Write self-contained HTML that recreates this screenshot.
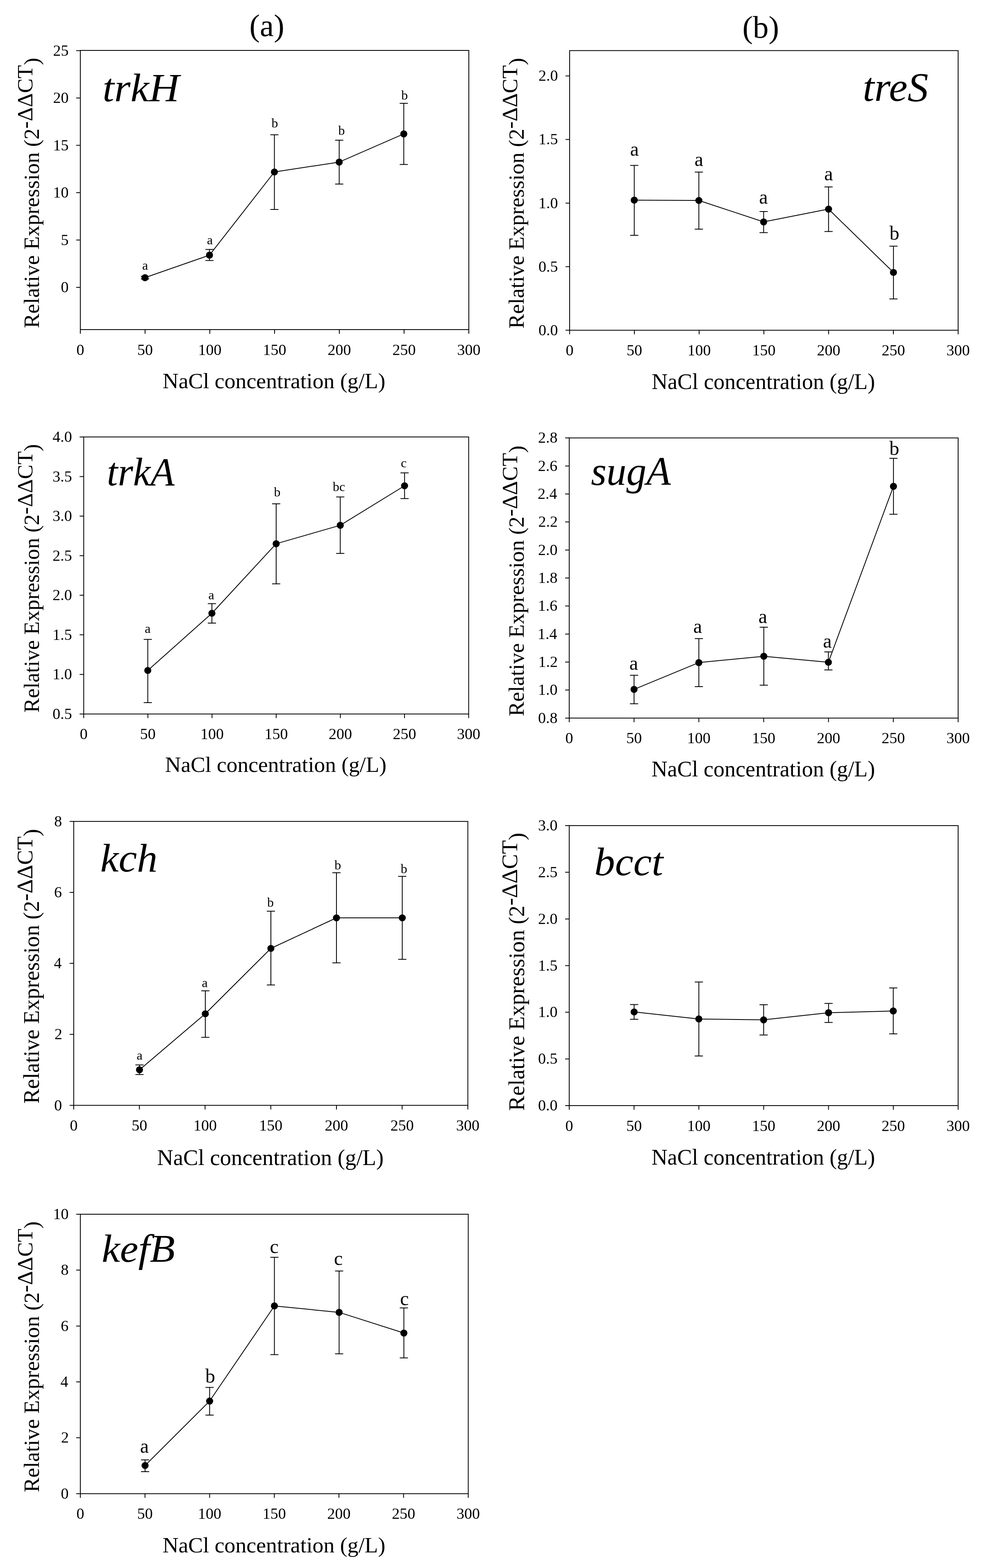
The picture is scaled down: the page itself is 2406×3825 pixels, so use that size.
<!DOCTYPE html>
<html><head><meta charset="utf-8"><title>Relative expression of osmoregulation genes under NaCl stress</title>
<style>
html,body{margin:0;padding:0;background:#fff;}
svg{display:block;}
text{font-family:'Liberation Serif','Times New Roman',serif;fill:#000;}
</style></head>
<body>
<svg width="2406" height="3825" viewBox="0 0 2406 3825">
<rect width="2406" height="3825" fill="#fff"/>
<g class="chart">
<rect x="196" y="123" width="948" height="681" fill="none" stroke="#000" stroke-width="2.0"/>
<path d="M196 804v10M354 804v10M512 804v10M670 804v10M828 804v10M986 804v10M1144 804v10M196 700.9h-10M196 585.4h-10M196 469.9h-10M196 354.4h-10M196 238.9h-10M196 123.4h-10" stroke="#000" stroke-width="2.0" fill="none"/>
<text x="196" y="865.7" font-size="38" text-anchor="middle">0</text>
<text x="354" y="865.7" font-size="38" text-anchor="middle">50</text>
<text x="512" y="865.7" font-size="38" text-anchor="middle">100</text>
<text x="670" y="865.7" font-size="38" text-anchor="middle">150</text>
<text x="828" y="865.7" font-size="38" text-anchor="middle">200</text>
<text x="986" y="865.7" font-size="38" text-anchor="middle">250</text>
<text x="1144" y="865.7" font-size="38" text-anchor="middle">300</text>
<text x="167.45" y="713" font-size="38" text-anchor="end">0</text>
<text x="167.48" y="597.5" font-size="38" text-anchor="end">5</text>
<text x="167.45" y="482" font-size="38" text-anchor="end">10</text>
<text x="167.48" y="366.5" font-size="38" text-anchor="end">15</text>
<text x="167.45" y="251" font-size="38" text-anchor="end">20</text>
<text x="167.48" y="135.5" font-size="38" text-anchor="end">25</text>
<polyline points="353.8,677.3 511.2,622.4 669.6,419.5 827.7,395.4 985.3,326.7" fill="none" stroke="#000" stroke-width="2.0" stroke-linejoin="round"/>
<path d="M353.8 674V680.6M343.8 674h20M343.8 680.6h20M511.2 608.4V635.6M501.2 608.4h20M501.2 635.6h20M669.6 328.8V511M659.6 328.8h20M659.6 511h20M827.7 342V449M817.7 342h20M817.7 449h20M985.3 252V401.2M975.3 252h20M975.3 401.2h20" stroke="#000" stroke-width="2.0" fill="none"/>
<circle cx="353.8" cy="677.3" r="8.6"/>
<circle cx="511.2" cy="622.4" r="8.6"/>
<circle cx="669.6" cy="419.5" r="8.6"/>
<circle cx="827.7" cy="395.4" r="8.6"/>
<circle cx="985.3" cy="326.7" r="8.6"/>
<text x="346.95" y="658" font-size="32">a</text>
<text x="505.05" y="596" font-size="32">a</text>
<text x="662.41" y="311" font-size="32">b</text>
<text x="825.41" y="329.3" font-size="32">b</text>
<text x="979.21" y="242.8" font-size="32">b</text>
<text transform="translate(254.8,246.55) scale(1.0485,1)" x="-4.28" font-size="97.35" font-style="italic">trkH</text>
<text transform="translate(94.8,800.54) rotate(-90)" font-size="53.46">Relative Expression (2<tspan dy="-16.1">-ΔΔCT</tspan><tspan dy="16.1">)</tspan></text>
<text x="396.85" y="946.7" font-size="53.79">NaCl concentration (g/L)</text>
</g>
<g class="chart">
<rect x="1390" y="123.4" width="948" height="682.2" fill="none" stroke="#000" stroke-width="2.0"/>
<path d="M1390 805.6v10M1548 805.6v10M1706 805.6v10M1864 805.6v10M2022 805.6v10M2180 805.6v10M2338 805.6v10M1390 805.6h-10M1390 650.5h-10M1390 495.4h-10M1390 340.3h-10M1390 185.2h-10" stroke="#000" stroke-width="2.0" fill="none"/>
<text x="1390" y="867.3" font-size="38" text-anchor="middle">0</text>
<text x="1548" y="867.3" font-size="38" text-anchor="middle">50</text>
<text x="1706" y="867.3" font-size="38" text-anchor="middle">100</text>
<text x="1864" y="867.3" font-size="38" text-anchor="middle">150</text>
<text x="2022" y="867.3" font-size="38" text-anchor="middle">200</text>
<text x="2180" y="867.3" font-size="38" text-anchor="middle">250</text>
<text x="2338" y="867.3" font-size="38" text-anchor="middle">300</text>
<text x="1361.45" y="817.7" font-size="38" text-anchor="end">0.0</text>
<text x="1361.48" y="662.6" font-size="38" text-anchor="end">0.5</text>
<text x="1361.45" y="507.5" font-size="38" text-anchor="end">1.0</text>
<text x="1361.48" y="352.4" font-size="38" text-anchor="end">1.5</text>
<text x="1361.45" y="197.3" font-size="38" text-anchor="end">2.0</text>
<polyline points="1547.7,488.2 1705.3,489 1863.4,541.3 2021.8,510.1 2180.2,664.5" fill="none" stroke="#000" stroke-width="2.0" stroke-linejoin="round"/>
<path d="M1547.7 403.4V574M1537.7 403.4h20M1537.7 574h20M1705.3 419.8V559M1695.3 419.8h20M1695.3 559h20M1863.4 515.9V567.4M1853.4 515.9h20M1853.4 567.4h20M2021.8 456V564.8M2011.8 456h20M2011.8 564.8h20M2180.2 600.4V729.2M2170.2 600.4h20M2170.2 729.2h20" stroke="#000" stroke-width="2.0" fill="none"/>
<circle cx="1547.7" cy="488.2" r="8.6"/>
<circle cx="1705.3" cy="489" r="8.6"/>
<circle cx="1863.4" cy="541.3" r="8.6"/>
<circle cx="2021.8" cy="510.1" r="8.6"/>
<circle cx="2180.2" cy="664.5" r="8.6"/>
<text x="1537.53" y="380.4" font-size="48">a</text>
<text x="1694.83" y="404.5" font-size="48">a</text>
<text x="1852.13" y="497.4" font-size="48">a</text>
<text x="2011.23" y="440.1" font-size="48">a</text>
<text x="2170.41" y="585.3" font-size="48">b</text>
<text transform="translate(2109.8,246.12) scale(1.0109,1)" x="-4.41" font-size="100.47" font-style="italic">treS</text>
<text transform="translate(1278.3,801.54) rotate(-90)" font-size="53.52">Relative Expression (2<tspan dy="-16.2">-ΔΔCT</tspan><tspan dy="16.2">)</tspan></text>
<text x="1590.15" y="948.6" font-size="53.93">NaCl concentration (g/L)</text>
</g>
<g class="chart">
<rect x="204.3" y="1065.9" width="939.3" height="675.8" fill="none" stroke="#000" stroke-width="2.0"/>
<path d="M204.3 1741.7v10M360.85 1741.7v10M517.4 1741.7v10M673.95 1741.7v10M830.5 1741.7v10M987.05 1741.7v10M1143.6 1741.7v10M204.3 1741.7h-10M204.3 1645.16h-10M204.3 1548.61h-10M204.3 1452.07h-10M204.3 1355.53h-10M204.3 1258.99h-10M204.3 1162.44h-10M204.3 1065.9h-10" stroke="#000" stroke-width="2.0" fill="none"/>
<text x="204.3" y="1803.4" font-size="38" text-anchor="middle">0</text>
<text x="360.85" y="1803.4" font-size="38" text-anchor="middle">50</text>
<text x="517.4" y="1803.4" font-size="38" text-anchor="middle">100</text>
<text x="673.95" y="1803.4" font-size="38" text-anchor="middle">150</text>
<text x="830.5" y="1803.4" font-size="38" text-anchor="middle">200</text>
<text x="987.05" y="1803.4" font-size="38" text-anchor="middle">250</text>
<text x="1143.6" y="1803.4" font-size="38" text-anchor="middle">300</text>
<text x="175.78" y="1753.8" font-size="38" text-anchor="end">0.5</text>
<text x="175.75" y="1657.26" font-size="38" text-anchor="end">1.0</text>
<text x="175.78" y="1560.71" font-size="38" text-anchor="end">1.5</text>
<text x="175.75" y="1464.17" font-size="38" text-anchor="end">2.0</text>
<text x="175.78" y="1367.63" font-size="38" text-anchor="end">2.5</text>
<text x="175.75" y="1271.09" font-size="38" text-anchor="end">3.0</text>
<text x="175.78" y="1174.54" font-size="38" text-anchor="end">3.5</text>
<text x="175.75" y="1078" font-size="38" text-anchor="end">4.0</text>
<polyline points="360.6,1635.5 517.1,1496 673.9,1326.4 830.3,1281.4 987.2,1185" fill="none" stroke="#000" stroke-width="2.0" stroke-linejoin="round"/>
<path d="M360.6 1559.8V1714M350.6 1559.8h20M350.6 1714h20M517.1 1472.6V1520M507.1 1472.6h20M507.1 1520h20M673.9 1228.9V1424.3M663.9 1228.9h20M663.9 1424.3h20M830.3 1212.2V1350M820.3 1212.2h20M820.3 1350h20M987.2 1153.6V1216.2M977.2 1153.6h20M977.2 1216.2h20" stroke="#000" stroke-width="2.0" fill="none"/>
<circle cx="360.6" cy="1635.5" r="8.6"/>
<circle cx="517.1" cy="1496" r="8.6"/>
<circle cx="673.9" cy="1326.4" r="8.6"/>
<circle cx="830.3" cy="1281.4" r="8.6"/>
<circle cx="987.2" cy="1185" r="8.6"/>
<text x="353.15" y="1543.8" font-size="32">a</text>
<text x="508.55" y="1462" font-size="32">a</text>
<text x="668.61" y="1211" font-size="32">b</text>
<text x="811.99" y="1197.9" font-size="32">bc</text>
<text x="978.08" y="1139.6" font-size="32">c</text>
<text transform="translate(265,1184.14) scale(0.9784,1)" x="-4.31" font-size="98.07" font-style="italic">trkA</text>
<text transform="translate(94.5,1738.53) rotate(-90)" font-size="53.11">Relative Expression (2<tspan dy="-16.0">-ΔΔCT</tspan><tspan dy="16.0">)</tspan></text>
<text x="402.86" y="1882.9" font-size="53.46">NaCl concentration (g/L)</text>
</g>
<g class="chart">
<rect x="1389" y="1068.3" width="949" height="683.4" fill="none" stroke="#000" stroke-width="2.0"/>
<path d="M1389 1751.7v10M1547.17 1751.7v10M1705.33 1751.7v10M1863.5 1751.7v10M2021.67 1751.7v10M2179.83 1751.7v10M2338 1751.7v10M1389 1751.7h-10M1389 1683.36h-10M1389 1615.02h-10M1389 1546.68h-10M1389 1478.34h-10M1389 1410h-10M1389 1341.66h-10M1389 1273.32h-10M1389 1204.98h-10M1389 1136.64h-10M1389 1068.3h-10" stroke="#000" stroke-width="2.0" fill="none"/>
<text x="1389" y="1813.4" font-size="38" text-anchor="middle">0</text>
<text x="1547.17" y="1813.4" font-size="38" text-anchor="middle">50</text>
<text x="1705.33" y="1813.4" font-size="38" text-anchor="middle">100</text>
<text x="1863.5" y="1813.4" font-size="38" text-anchor="middle">150</text>
<text x="2021.67" y="1813.4" font-size="38" text-anchor="middle">200</text>
<text x="2179.83" y="1813.4" font-size="38" text-anchor="middle">250</text>
<text x="2338" y="1813.4" font-size="38" text-anchor="middle">300</text>
<text x="1360.45" y="1763.8" font-size="38" text-anchor="end">0.8</text>
<text x="1360.45" y="1695.46" font-size="38" text-anchor="end">1.0</text>
<text x="1361.1" y="1627.12" font-size="38" text-anchor="end">1.2</text>
<text x="1359.59" y="1558.78" font-size="38" text-anchor="end">1.4</text>
<text x="1360.13" y="1490.44" font-size="38" text-anchor="end">1.6</text>
<text x="1360.45" y="1422.1" font-size="38" text-anchor="end">1.8</text>
<text x="1360.45" y="1353.76" font-size="38" text-anchor="end">2.0</text>
<text x="1361.1" y="1285.42" font-size="38" text-anchor="end">2.2</text>
<text x="1359.59" y="1217.08" font-size="38" text-anchor="end">2.4</text>
<text x="1360.13" y="1148.74" font-size="38" text-anchor="end">2.6</text>
<text x="1360.45" y="1080.4" font-size="38" text-anchor="end">2.8</text>
<polyline points="1547.2,1681.6 1705.3,1616.3 1863.8,1600.9 2021.4,1615.5 2180.2,1186.3" fill="none" stroke="#000" stroke-width="2.0" stroke-linejoin="round"/>
<path d="M1547.2 1647.2V1716.7M1537.2 1647.2h20M1537.2 1716.7h20M1705.3 1557.7V1675M1695.3 1557.7h20M1695.3 1675h20M1863.8 1530V1671.4M1853.8 1530h20M1853.8 1671.4h20M2021.4 1590.3V1634.2M2011.4 1590.3h20M2011.4 1634.2h20M2180.2 1118.1V1254.6M2170.2 1118.1h20M2170.2 1254.6h20" stroke="#000" stroke-width="2.0" fill="none"/>
<circle cx="1547.2" cy="1681.6" r="8.6"/>
<circle cx="1705.3" cy="1616.3" r="8.6"/>
<circle cx="1863.8" cy="1600.9" r="8.6"/>
<circle cx="2021.4" cy="1615.5" r="8.6"/>
<circle cx="2180.2" cy="1186.3" r="8.6"/>
<text x="1535.83" y="1634" font-size="48">a</text>
<text x="1691.63" y="1543.7" font-size="48">a</text>
<text x="1850.63" y="1519.9" font-size="48">a</text>
<text x="2008.13" y="1579.7" font-size="48">a</text>
<text x="2170.31" y="1110.2" font-size="48">b</text>
<text transform="translate(1443.1,1183.23) scale(0.9896,1)" x="-1.2" font-size="98.51" font-style="italic">sugA</text>
<text transform="translate(1278.3,1747.34) rotate(-90)" font-size="53.53">Relative Expression (2<tspan dy="-16.2">-ΔΔCT</tspan><tspan dy="16.2">)</tspan></text>
<text x="1589.65" y="1893.8" font-size="53.97">NaCl concentration (g/L)</text>
</g>
<g class="chart">
<rect x="179.9" y="2003.8" width="961.7" height="692.6" fill="none" stroke="#000" stroke-width="2.0"/>
<path d="M179.9 2696.4v10M340.18 2696.4v10M500.47 2696.4v10M660.75 2696.4v10M821.03 2696.4v10M981.32 2696.4v10M1141.6 2696.4v10M179.9 2696.4h-10M179.9 2523.25h-10M179.9 2350.1h-10M179.9 2176.95h-10M179.9 2003.8h-10" stroke="#000" stroke-width="2.0" fill="none"/>
<text x="179.9" y="2758.1" font-size="38" text-anchor="middle">0</text>
<text x="340.18" y="2758.1" font-size="38" text-anchor="middle">50</text>
<text x="500.47" y="2758.1" font-size="38" text-anchor="middle">100</text>
<text x="660.75" y="2758.1" font-size="38" text-anchor="middle">150</text>
<text x="821.03" y="2758.1" font-size="38" text-anchor="middle">200</text>
<text x="981.32" y="2758.1" font-size="38" text-anchor="middle">250</text>
<text x="1141.6" y="2758.1" font-size="38" text-anchor="middle">300</text>
<text x="151.35" y="2708.5" font-size="38" text-anchor="end">0</text>
<text x="152" y="2535.35" font-size="38" text-anchor="end">2</text>
<text x="150.49" y="2362.2" font-size="38" text-anchor="end">4</text>
<text x="151.03" y="2189.05" font-size="38" text-anchor="end">6</text>
<text x="151.35" y="2015.9" font-size="38" text-anchor="end">8</text>
<polyline points="340.4,2609.7 501,2473 661,2313.5 821,2239 981.6,2239" fill="none" stroke="#000" stroke-width="2.0" stroke-linejoin="round"/>
<path d="M340.4 2597.7V2621.3M330.4 2597.7h20M330.4 2621.3h20M501 2417V2530.6M491 2417h20M491 2530.6h20M661 2222.8V2402.7M651 2222.8h20M651 2402.7h20M821 2128.9V2348.8M811 2128.9h20M811 2348.8h20M981.6 2137.8V2340.2M971.6 2137.8h20M971.6 2340.2h20" stroke="#000" stroke-width="2.0" fill="none"/>
<circle cx="340.4" cy="2609.7" r="8.6"/>
<circle cx="501" cy="2473" r="8.6"/>
<circle cx="661" cy="2313.5" r="8.6"/>
<circle cx="821" cy="2239" r="8.6"/>
<circle cx="981.6" cy="2239" r="8.6"/>
<text x="333.55" y="2585.3" font-size="32">a</text>
<text x="492.45" y="2407.8" font-size="32">a</text>
<text x="652.01" y="2212.2" font-size="32">b</text>
<text x="816.31" y="2120.9" font-size="32">b</text>
<text x="977.81" y="2130.3" font-size="32">b</text>
<text transform="translate(247.6,2125.75) scale(1.0377,1)" x="-2.8" font-size="97.07" font-style="italic">kch</text>
<text transform="translate(95.4,2692.36) rotate(-90)" font-size="54.32">Relative Expression (2<tspan dy="-16.4">-ΔΔCT</tspan><tspan dy="16.4">)</tspan></text>
<text x="383.32" y="2842" font-size="54.71">NaCl concentration (g/L)</text>
</g>
<g class="chart">
<rect x="1389" y="2014" width="949" height="683" fill="none" stroke="#000" stroke-width="2.0"/>
<path d="M1389 2697v10M1547.17 2697v10M1705.33 2697v10M1863.5 2697v10M2021.67 2697v10M2179.83 2697v10M2338 2697v10M1389 2697h-10M1389 2583.17h-10M1389 2469.33h-10M1389 2355.5h-10M1389 2241.67h-10M1389 2127.83h-10M1389 2014h-10" stroke="#000" stroke-width="2.0" fill="none"/>
<text x="1389" y="2758.7" font-size="38" text-anchor="middle">0</text>
<text x="1547.17" y="2758.7" font-size="38" text-anchor="middle">50</text>
<text x="1705.33" y="2758.7" font-size="38" text-anchor="middle">100</text>
<text x="1863.5" y="2758.7" font-size="38" text-anchor="middle">150</text>
<text x="2021.67" y="2758.7" font-size="38" text-anchor="middle">200</text>
<text x="2179.83" y="2758.7" font-size="38" text-anchor="middle">250</text>
<text x="2338" y="2758.7" font-size="38" text-anchor="middle">300</text>
<text x="1360.45" y="2709.1" font-size="38" text-anchor="end">0.0</text>
<text x="1360.48" y="2595.27" font-size="38" text-anchor="end">0.5</text>
<text x="1360.45" y="2481.43" font-size="38" text-anchor="end">1.0</text>
<text x="1360.48" y="2367.6" font-size="38" text-anchor="end">1.5</text>
<text x="1360.45" y="2253.77" font-size="38" text-anchor="end">2.0</text>
<text x="1360.48" y="2139.93" font-size="38" text-anchor="end">2.5</text>
<text x="1360.45" y="2026.1" font-size="38" text-anchor="end">3.0</text>
<polyline points="1547.4,2468.5 1705.3,2485.7 1863.4,2487.8 2021.8,2470.4 2179.7,2466.2" fill="none" stroke="#000" stroke-width="2.0" stroke-linejoin="round"/>
<path d="M1547.4 2450.6V2486.5M1537.4 2450.6h20M1537.4 2486.5h20M1705.3 2395.4V2576M1695.3 2395.4h20M1695.3 2576h20M1863.4 2450.9V2524.8M1853.4 2450.9h20M1853.4 2524.8h20M2021.8 2447.7V2494.2M2011.8 2447.7h20M2011.8 2494.2h20M2179.7 2409.9V2522.1M2169.7 2409.9h20M2169.7 2522.1h20" stroke="#000" stroke-width="2.0" fill="none"/>
<circle cx="1547.4" cy="2468.5" r="8.6"/>
<circle cx="1705.3" cy="2485.7" r="8.6"/>
<circle cx="1863.4" cy="2487.8" r="8.6"/>
<circle cx="2021.8" cy="2470.4" r="8.6"/>
<circle cx="2179.7" cy="2466.2" r="8.6"/>
<text transform="translate(1454,2134.85) scale(1.0356,1)" x="-3.61" font-size="97.35" font-style="italic">bcct</text>
<text transform="translate(1278.5,2709.68) rotate(-90)" font-size="54.97">Relative Expression (2<tspan dy="-16.6">-ΔΔCT</tspan><tspan dy="16.6">)</tspan></text>
<text x="1589.64" y="2840.6" font-size="53.98">NaCl concentration (g/L)</text>
</g>
<g class="chart">
<rect x="196" y="2962" width="946.6" height="681.7" fill="none" stroke="#000" stroke-width="2.0"/>
<path d="M196 3643.7v10M353.77 3643.7v10M511.53 3643.7v10M669.3 3643.7v10M827.07 3643.7v10M984.83 3643.7v10M1142.6 3643.7v10M196 3643.7h-10M196 3507.36h-10M196 3371.02h-10M196 3234.68h-10M196 3098.34h-10M196 2962h-10" stroke="#000" stroke-width="2.0" fill="none"/>
<text x="196" y="3705.4" font-size="38" text-anchor="middle">0</text>
<text x="353.77" y="3705.4" font-size="38" text-anchor="middle">50</text>
<text x="511.53" y="3705.4" font-size="38" text-anchor="middle">100</text>
<text x="669.3" y="3705.4" font-size="38" text-anchor="middle">150</text>
<text x="827.07" y="3705.4" font-size="38" text-anchor="middle">200</text>
<text x="984.83" y="3705.4" font-size="38" text-anchor="middle">250</text>
<text x="1142.6" y="3705.4" font-size="38" text-anchor="middle">300</text>
<text x="167.45" y="3655.8" font-size="38" text-anchor="end">0</text>
<text x="168.1" y="3519.46" font-size="38" text-anchor="end">2</text>
<text x="166.59" y="3383.12" font-size="38" text-anchor="end">4</text>
<text x="167.13" y="3246.78" font-size="38" text-anchor="end">6</text>
<text x="167.45" y="3110.44" font-size="38" text-anchor="end">8</text>
<text x="167.45" y="2974.1" font-size="38" text-anchor="end">10</text>
<polyline points="354,3575 511.5,3417.8 669.6,3185.7 827.5,3201.4 985.5,3251.8" fill="none" stroke="#000" stroke-width="2.0" stroke-linejoin="round"/>
<path d="M354 3561.3V3590M344 3561.3h20M344 3590h20M511.5 3384.5V3452.1M501.5 3384.5h20M501.5 3452.1h20M669.6 3067.1V3304.4M659.6 3067.1h20M659.6 3304.4h20M827.5 3100.5V3302.6M817.5 3100.5h20M817.5 3302.6h20M985.5 3190.6V3312.5M975.5 3190.6h20M975.5 3312.5h20" stroke="#000" stroke-width="2.0" fill="none"/>
<circle cx="354" cy="3575" r="8.6"/>
<circle cx="511.5" cy="3417.8" r="8.6"/>
<circle cx="669.6" cy="3185.7" r="8.6"/>
<circle cx="827.5" cy="3201.4" r="8.6"/>
<circle cx="985.5" cy="3251.8" r="8.6"/>
<text x="341.83" y="3544" font-size="48">a</text>
<text x="500.91" y="3372.9" font-size="48">b</text>
<text x="658.57" y="3056.8" font-size="48">c</text>
<text x="815.07" y="3086" font-size="48">c</text>
<text x="976.27" y="3183.6" font-size="48">c</text>
<text transform="translate(251.1,3077.79) scale(1.0489,1)" x="-2.76" font-size="95.86" font-style="italic">kefB</text>
<text transform="translate(94.8,3640.24) rotate(-90)" font-size="53.55">Relative Expression (2<tspan dy="-16.2">-ΔΔCT</tspan><tspan dy="16.2">)</tspan></text>
<text x="396.65" y="3786.8" font-size="53.81">NaCl concentration (g/L)</text>
</g>
<text x="608.52" y="88" font-size="76.81">(a)</text>
<text x="1811.52" y="92" font-size="76.89">(b)</text>
</svg>
</body></html>
